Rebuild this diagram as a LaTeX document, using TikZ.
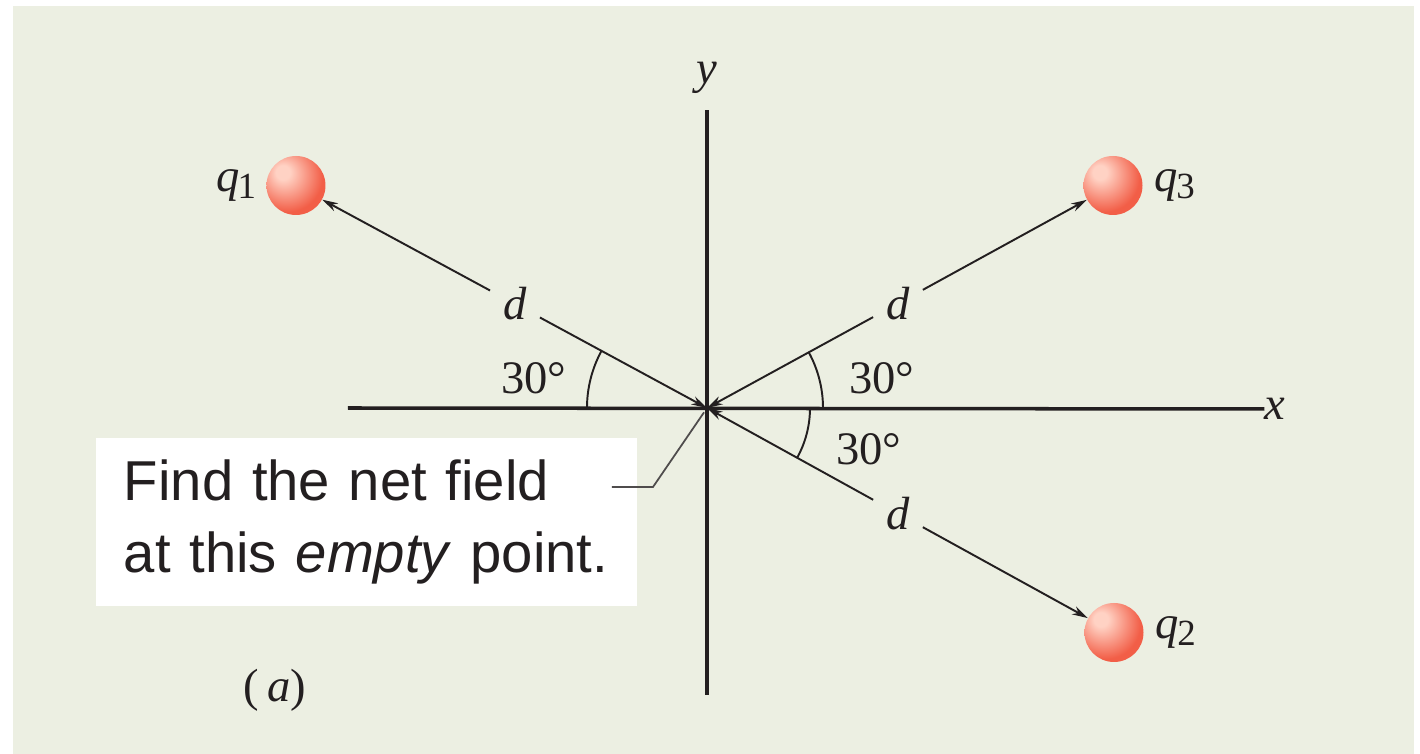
\documentclass[tikz,border=0pt]{standalone}
\usepackage{fontspec}
\setmainfont{Liberation Serif}
\setsansfont{Liberation Sans}
\usepackage{tikz}
\usetikzlibrary{positioning,arrows.meta}
\definecolor{panel}{HTML}{ECEFE2}
\definecolor{ink}{HTML}{231F20}
\definecolor{ballred}{HTML}{F25E47}
\definecolor{ballhi}{HTML}{FFD2C4}
\pgfdeclareradialshading{chargeball}{\pgfqpoint{-12bp}{12bp}}{color(0bp)=(ballhi); color(6bp)=(ballhi); color(30bp)=(ballred); color(80bp)=(ballred)}
\newcommand{\chg}[1]{\textit{q}\kern-1pt\raisebox{-0.35ex}{\fontsize{21}{21}\selectfont #1}}
\tikzset{
  charge/.style={circle,shading=chargeball,minimum size=1.18cm,inner sep=0pt},
  lab/.style={font=\fontsize{26.5}{30}\selectfont,text=ink,inner sep=1pt},
  dlab/.style={lab,circle,minimum size=1.12cm},
  axis/.style={ink,line width=2pt},
  dim/.style={-{Stealth[length=9pt,width=5pt]},ink,line width=1.1pt},
  angarc/.style={ink,line width=1.1pt},
  callout/.style={fill=white,font=\sffamily\fontsize{32}{41}\selectfont,text=ink,align=left,text width=9.7cm,inner xsep=0.56cm,minimum height=3.36cm},
  leader/.style={ink!80,line width=1pt,shorten >=3pt},
}
\begin{document}
\begin{tikzpicture}
\useasboundingbox (-14.14,-6.92) rectangle (14.26,8.16);
\fill[panel] (-13.88,-6.92) rectangle (14.14,8.04);
% axes
\node[lab,inner sep=0pt] (xl) at (11.36,-0.02) {\textit{x}};
\node[lab] (yl) at (0,6.6) {\textit{y}};
\coordinate (O) at (0,0);
\coordinate (xa) at (-7.18,0);
\coordinate (yb) at (0,-5.74);
\draw[axis] (xa) -- (xl.west);
\draw[axis] (yb) -- (0,5.96);
% charges
\node[charge] (q1) at (-8.22,4.45) {};
\node[charge] (q3) at (8.12,4.45) {};
\node[charge] (q2) at (8.14,-4.49) {};
\node[lab,left=0.16cm of q1] (lq1) {\chg{1}};
\node[lab,right=0.2cm of q3] (lq3) {\chg{3}};
\node[lab,right=0.2cm of q2] (lq2) {\chg{2}};
% distances
\node[dlab] (d1) at (-3.84,2.08) {\textit{d}};
\node[dlab] (d3) at (3.82,2.09) {\textit{d}};
\node[dlab] (d2) at (3.82,-2.11) {\textit{d}};
\draw[dim] (d1) -- (O);
\draw[dim] (d1) -- (q1);
\draw[dim] (d3) -- (O);
\draw[dim] (d3) -- (q3);
\draw[dim] (d2) -- (O);
\draw[dim] (d2) -- (q2);
% angles
\draw[angarc] (180:2.4) arc[start angle=180,end angle=151.57,radius=2.4];
\draw[angarc] (0:2.32) arc[start angle=0,end angle=28.72,radius=2.32];
\draw[angarc] (0:2.06) arc[start angle=0,end angle=-28.88,radius=2.06];
\node[lab] (a1) at (-3.46,0.6) {30°};
\node[lab] (a3) at (3.5,0.6) {30°};
\node[lab] (a2) at (3.24,-0.82) {30°};
% callout
\node[callout] (note) at (-6.81,-2.28) {Find the net field\\at this \textit{empty} point.};
\coordinate (lead) at (-1.9,-1.58);
\draw[leader] (lead) -- ++(0.82,0) -- (O);
\node[lab] (tag) at (-8.64,-5.64) {(\,\textit{a})};
\end{tikzpicture}
\end{document}
